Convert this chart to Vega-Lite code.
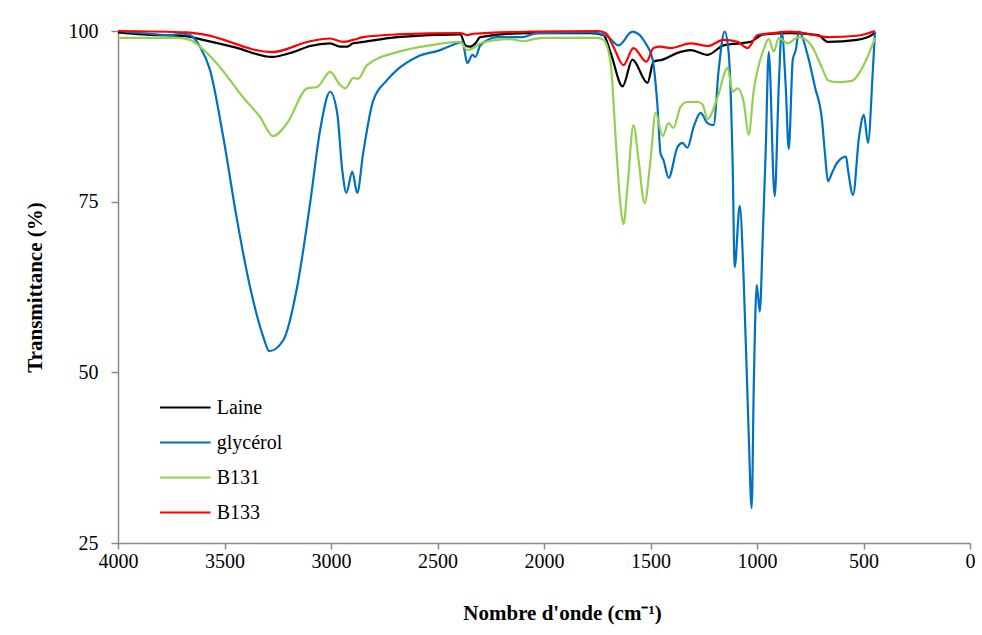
{
  "$schema": "https://vega.github.io/schema/vega-lite/v6.json",
  "width": 852,
  "height": 512,
  "autosize": "none",
  "padding": {"left": 118, "top": 31, "right": 12, "bottom": 92},
  "background": "white",
  "config": {
    "view": {"stroke": null},
    "font": "Liberation Serif",
    "axis": {"grid": false, "domainColor": "#898989", "tickColor": "#898989", "domainWidth": 1.5, "tickWidth": 1.5, "labelFont": "Liberation Serif", "titleFont": "Liberation Serif", "labelColor": "#000", "titleColor": "#000", "labelFontSize": 20, "titleFontSize": 21, "titleFontWeight": "bold", "labelFlush": false},
    "legend": {"labelFont": "Liberation Serif"}
  },
  "data": {"values": [
    {"s":"Laine","x":4000,"y":99.8},{"s":"Laine","x":3883,"y":99.5},{"s":"Laine","x":3676,"y":99.2},{"s":"Laine","x":3601,"y":98.7},{"s":"Laine","x":3450,"y":97.6},{"s":"Laine","x":3277,"y":96.2},{"s":"Laine","x":3178,"y":96.9},{"s":"Laine","x":3098,"y":97.8},{"s":"Laine","x":3004,"y":98.2},{"s":"Laine","x":2957,"y":97.7},{"s":"Laine","x":2924,"y":97.7},{"s":"Laine","x":2896,"y":98.2},{"s":"Laine","x":2849,"y":98.4},{"s":"Laine","x":2690,"y":99.1},{"s":"Laine","x":2393,"y":99.5},{"s":"Laine","x":2369,"y":97.9},{"s":"Laine","x":2346,"y":97.7},{"s":"Laine","x":2322,"y":98.2},{"s":"Laine","x":2299,"y":99.1},{"s":"Laine","x":2064,"y":99.7},{"s":"Laine","x":1781,"y":99.7},{"s":"Laine","x":1720,"y":99.4},{"s":"Laine","x":1687,"y":96.8},{"s":"Laine","x":1631,"y":91.9},{"s":"Laine","x":1585,"y":95.8},{"s":"Laine","x":1514,"y":92.4},{"s":"Laine","x":1486,"y":95.5},{"s":"Laine","x":1443,"y":95.8},{"s":"Laine","x":1373,"y":96.8},{"s":"Laine","x":1312,"y":97.2},{"s":"Laine","x":1232,"y":96.5},{"s":"Laine","x":1157,"y":97.9},{"s":"Laine","x":1077,"y":98.2},{"s":"Laine","x":1030,"y":98.4},{"s":"Laine","x":970,"y":99.5},{"s":"Laine","x":843,"y":99.7},{"s":"Laine","x":714,"y":99.4},{"s":"Laine","x":667,"y":98.4},{"s":"Laine","x":530,"y":98.7},{"s":"Laine","x":456,"y":99.5},{"s":"Laine","x":446,"y":99.8},

    {"s":"glycérol","x":4000,"y":100},{"s":"glycérol","x":3850,"y":99.6},{"s":"glycérol","x":3750,"y":99.4},{"s":"glycérol","x":3700,"y":99.6},{"s":"glycérol","x":3662,"y":99.4},{"s":"glycérol","x":3615,"y":97.7},{"s":"glycérol","x":3568,"y":94.3},{"s":"glycérol","x":3506,"y":84.5},{"s":"glycérol","x":3441,"y":72.3},{"s":"glycérol","x":3380,"y":62.5},{"s":"glycérol","x":3318,"y":55.2},{"s":"glycérol","x":3290,"y":53.1},{"s":"glycérol","x":3224,"y":54.7},{"s":"glycérol","x":3159,"y":62.5},{"s":"glycérol","x":3098,"y":74.8},{"s":"glycérol","x":3051,"y":85.5},{"s":"glycérol","x":3004,"y":91.1},{"s":"glycérol","x":2971,"y":88.0},{"s":"glycérol","x":2947,"y":79.6},{"s":"glycérol","x":2928,"y":76.3},{"s":"glycérol","x":2900,"y":79.4},{"s":"glycérol","x":2877,"y":76.3},{"s":"glycérol","x":2849,"y":82.1},{"s":"glycérol","x":2802,"y":89.8},{"s":"glycérol","x":2737,"y":92.8},{"s":"glycérol","x":2690,"y":94.3},{"s":"glycérol","x":2597,"y":96.2},{"s":"glycérol","x":2487,"y":97.2},{"s":"glycérol","x":2407,"y":98.2},{"s":"glycérol","x":2383,"y":98.4},{"s":"glycérol","x":2360,"y":95.3},{"s":"glycérol","x":2336,"y":96.5},{"s":"glycérol","x":2322,"y":96.2},{"s":"glycérol","x":2299,"y":97.9},{"s":"glycérol","x":2219,"y":99.1},{"s":"glycérol","x":2098,"y":99.1},{"s":"glycérol","x":2033,"y":99.7},{"s":"glycérol","x":1781,"y":99.8},{"s":"glycérol","x":1702,"y":99.2},{"s":"glycérol","x":1650,"y":97.9},{"s":"glycérol","x":1585,"y":99.9},{"s":"glycérol","x":1523,"y":98.2},{"s":"glycérol","x":1490,"y":95.8},{"s":"glycérol","x":1467,"y":88.9},{"s":"glycérol","x":1453,"y":82.1},{"s":"glycérol","x":1439,"y":81.1},{"s":"glycérol","x":1415,"y":78.5},{"s":"glycérol","x":1373,"y":83.0},{"s":"glycérol","x":1350,"y":83.6},{"s":"glycérol","x":1327,"y":82.9},{"s":"glycérol","x":1298,"y":85.9},{"s":"glycérol","x":1265,"y":88.0},{"s":"glycérol","x":1232,"y":86.5},{"s":"glycérol","x":1204,"y":86.2},{"s":"glycérol","x":1180,"y":94.3},{"s":"glycérol","x":1152,"y":99.9},{"s":"glycérol","x":1133,"y":96.8},{"s":"glycérol","x":1114,"y":80.0},{"s":"glycérol","x":1105,"y":65.4},{"s":"glycérol","x":1081,"y":74.4},{"s":"glycérol","x":1062,"y":63.1},{"s":"glycérol","x":1040,"y":42.0},{"s":"glycérol","x":1025,"y":30.1},{"s":"glycérol","x":1015,"y":48.4},{"s":"glycérol","x":1001,"y":62.8},{"s":"glycérol","x":987,"y":58.9},{"s":"glycérol","x":973,"y":69.8},{"s":"glycérol","x":959,"y":82.6},{"s":"glycérol","x":945,"y":96.9},{"s":"glycérol","x":917,"y":75.8},{"s":"glycérol","x":898,"y":91.8},{"s":"glycérol","x":884,"y":99.9},{"s":"glycérol","x":865,"y":91.8},{"s":"glycérol","x":851,"y":82.7},{"s":"glycérol","x":832,"y":95.8},{"s":"glycérol","x":818,"y":97.2},{"s":"glycérol","x":803,"y":99.9},{"s":"glycérol","x":765,"y":96.8},{"s":"glycérol","x":728,"y":91.8},{"s":"glycérol","x":695,"y":87.0},{"s":"glycérol","x":681,"y":82.1},{"s":"glycérol","x":667,"y":78.0},{"s":"glycérol","x":648,"y":79.2},{"s":"glycérol","x":624,"y":80.7},{"s":"glycérol","x":582,"y":81.6},{"s":"glycérol","x":573,"y":79.7},{"s":"glycérol","x":549,"y":76.0},{"s":"glycérol","x":521,"y":84.5},{"s":"glycérol","x":498,"y":87.7},{"s":"glycérol","x":479,"y":83.6},{"s":"glycérol","x":456,"y":94.3},{"s":"glycérol","x":446,"y":99.9},

    {"s":"B131","x":4000,"y":99.0},{"s":"B131","x":3723,"y":99.0},{"s":"B131","x":3662,"y":98.7},{"s":"B131","x":3615,"y":97.7},{"s":"B131","x":3521,"y":94.7},{"s":"B131","x":3413,"y":90.3},{"s":"B131","x":3333,"y":87.4},{"s":"B131","x":3272,"y":84.6},{"s":"B131","x":3206,"y":86.5},{"s":"B131","x":3112,"y":91.6},{"s":"B131","x":3065,"y":91.8},{"s":"B131","x":3004,"y":94.0},{"s":"B131","x":2957,"y":92.1},{"s":"B131","x":2933,"y":91.6},{"s":"B131","x":2896,"y":93.1},{"s":"B131","x":2873,"y":93.0},{"s":"B131","x":2831,"y":95.0},{"s":"B131","x":2690,"y":96.9},{"s":"B131","x":2535,"y":97.9},{"s":"B131","x":2393,"y":98.4},{"s":"B131","x":2360,"y":97.2},{"s":"B131","x":2332,"y":97.5},{"s":"B131","x":2299,"y":98.2},{"s":"B131","x":2157,"y":98.8},{"s":"B131","x":2096,"y":98.5},{"s":"B131","x":2064,"y":98.7},{"s":"B131","x":2002,"y":99.0},{"s":"B131","x":1750,"y":99.0},{"s":"B131","x":1720,"y":98.7},{"s":"B131","x":1687,"y":95.3},{"s":"B131","x":1664,"y":84.5},{"s":"B131","x":1640,"y":74.2},{"s":"B131","x":1627,"y":71.7},{"s":"B131","x":1608,"y":77.2},{"s":"B131","x":1580,"y":86.2},{"s":"B131","x":1556,"y":81.1},{"s":"B131","x":1528,"y":74.8},{"s":"B131","x":1500,"y":81.1},{"s":"B131","x":1476,"y":88.0},{"s":"B131","x":1443,"y":84.6},{"s":"B131","x":1415,"y":86.5},{"s":"B131","x":1392,"y":85.8},{"s":"B131","x":1359,"y":88.9},{"s":"B131","x":1327,"y":89.6},{"s":"B131","x":1279,"y":89.6},{"s":"B131","x":1255,"y":89.2},{"s":"B131","x":1232,"y":87.1},{"s":"B131","x":1185,"y":90.3},{"s":"B131","x":1138,"y":94.6},{"s":"B131","x":1114,"y":91.1},{"s":"B131","x":1091,"y":91.6},{"s":"B131","x":1062,"y":89.5},{"s":"B131","x":1039,"y":84.8},{"s":"B131","x":1015,"y":91.4},{"s":"B131","x":997,"y":94.3},{"s":"B131","x":970,"y":97.2},{"s":"B131","x":945,"y":98.8},{"s":"B131","x":921,"y":97.0},{"s":"B131","x":898,"y":99.0},{"s":"B131","x":856,"y":98.2},{"s":"B131","x":804,"y":99.1},{"s":"B131","x":747,"y":98.0},{"s":"B131","x":695,"y":94.6},{"s":"B131","x":667,"y":92.8},{"s":"B131","x":624,"y":92.5},{"s":"B131","x":554,"y":92.7},{"s":"B131","x":517,"y":94.0},{"s":"B131","x":484,"y":96.0},{"s":"B131","x":446,"y":99.0},

    {"s":"B133","x":4000,"y":100},{"s":"B133","x":3676,"y":99.8},{"s":"B133","x":3601,"y":99.5},{"s":"B133","x":3277,"y":96.9},{"s":"B133","x":3098,"y":98.5},{"s":"B133","x":3004,"y":98.9},{"s":"B133","x":2943,"y":98.4},{"s":"B133","x":2896,"y":98.7},{"s":"B133","x":2849,"y":99.1},{"s":"B133","x":2690,"y":99.5},{"s":"B133","x":2393,"y":99.7},{"s":"B133","x":2360,"y":99.4},{"s":"B133","x":2330,"y":99.6},{"s":"B133","x":2064,"y":99.9},{"s":"B133","x":1750,"y":100},{"s":"B133","x":1711,"y":99.7},{"s":"B133","x":1674,"y":97.7},{"s":"B133","x":1627,"y":95.0},{"s":"B133","x":1580,"y":97.5},{"s":"B133","x":1519,"y":95.5},{"s":"B133","x":1486,"y":97.5},{"s":"B133","x":1453,"y":97.7},{"s":"B133","x":1406,"y":97.5},{"s":"B133","x":1312,"y":98.2},{"s":"B133","x":1232,"y":97.8},{"s":"B133","x":1157,"y":98.7},{"s":"B133","x":1091,"y":98.4},{"s":"B133","x":1044,"y":97.5},{"s":"B133","x":997,"y":99.4},{"s":"B133","x":921,"y":99.7},{"s":"B133","x":843,"y":99.9},{"s":"B133","x":714,"y":99.3},{"s":"B133","x":667,"y":99.1},{"s":"B133","x":530,"y":99.3},{"s":"B133","x":446,"y":100}
  ]},
  "mark": {"type": "line", "strokeWidth": 2.2, "interpolate": "monotone"},
  "encoding": {
    "x": {"field": "x", "type": "quantitative", "scale": {"domain": [0, 4000], "reverse": true, "nice": false},
      "axis": {"values": [0,500,1000,1500,2000,2500,3000,3500,4000], "format": "d", "title": "Nombre d'onde (cm⁻¹)", "tickSize": 6, "labelPadding": 2, "labelFlush": false, "labelOverlap": false, "titlePadding": 31, "titleX": 444}},
    "y": {"field": "y", "type": "quantitative", "scale": {"domain": [25, 100], "nice": false, "zero": false},
      "axis": {"values": [25,50,75,100], "format": "d", "title": "Transmittance (%)", "tickSize": 7, "labelPadding": 13, "labelFlush": false, "titlePadding": 23}},
    "color": {"field": "s", "type": "nominal", "sort": ["Laine","glycérol","B131","B133"],
      "scale": {"domain": ["Laine","glycérol","B131","B133"], "range": ["#000000","#0070C0","#92D050","#FF0000"]},
      "legend": {"title": null, "orient": "none", "legendX": 42, "legendY": 360, "symbolType": "M-1.12,0H1.12", "symbolSize": 2170, "symbolStrokeWidth": 2.2, "symbolFillColor": "transparent", "clipHeight": 33, "labelFont": "Liberation Serif", "labelFontSize": 20, "labelColor": "#000", "labelOffset": 7.7, "rowPadding": 2}},
    "order": {"field": "x", "type": "quantitative"}
  }
}
